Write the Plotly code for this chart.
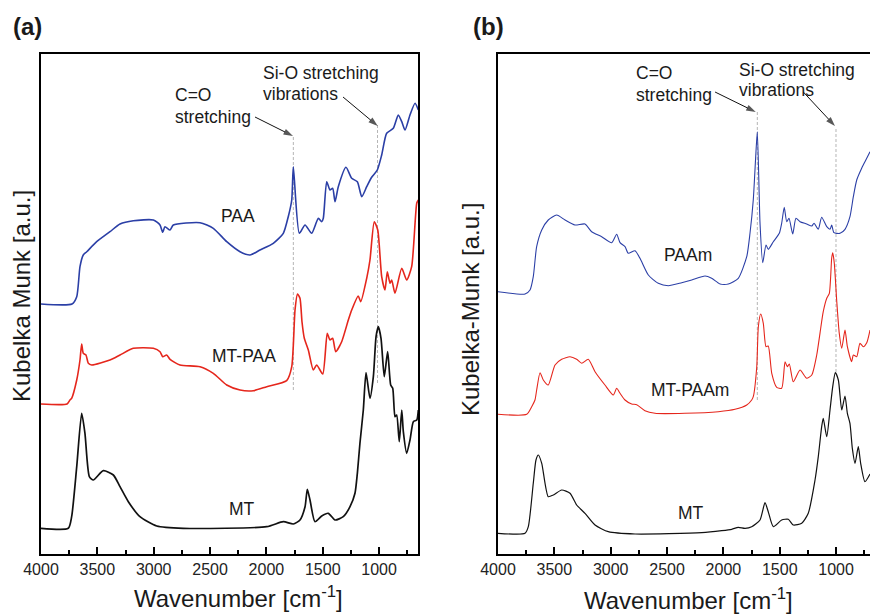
import plotly.graph_objects as go

# ---------------- data (wavenumber in cm-1, Kubelka-Munk in a.u.) ----------------
PAA_WN = [4000, 3725, 3683, 3654, 3625, 3594, 3506, 3388, 3299, 3181, 3003, 2944, 2920, 2900, 2855, 2826,
          2589, 2471, 2352, 2234, 2145, 2057, 1939, 1850, 1806, 1775, 1761, 1708, 1657, 1598, 1539, 1509,
          1495, 1465, 1436, 1412, 1391, 1362, 1294, 1243, 1193, 1154, 1110, 1066, 1016, 977, 933, 874,
          830, 799, 770, 726, 681, 652]
PAA_Y = [250, 250, 257.3, 287.3, 299, 302.3, 312.3, 322.3, 330, 333.3, 334, 329, 321.7, 327.3, 324, 329,
         331.3, 325.7, 312.3, 302.3, 299, 304, 310.7, 320.7, 337.3, 354, 387.3, 320.7, 329, 320.7, 335.7, 332.3,
         335.7, 372.3, 364, 365.7, 352.3, 367.3, 386.7, 375.7, 372.3, 357.3, 367.3, 376.7, 384, 399, 420.7, 425.7,
         439, 432.3, 424, 439, 450.7, 444]

MTPAA_WN = [4000, 3769, 3743, 3728, 3683, 3654, 3639, 3625, 3601, 3580, 3550, 3388, 3299, 3181, 3003, 2944,
            2920, 2885, 2855, 2767, 2589, 2471, 2352, 2234, 2116, 1997, 1820, 1775, 1746, 1724, 1702, 1684,
            1664, 1628, 1584, 1554, 1500, 1460, 1436, 1412, 1385, 1332, 1273, 1243, 1185, 1163, 1110, 1081,
            1043, 1012, 977, 948, 927, 903, 888, 859, 799, 755, 711, 666, 652]
MTPAA_Y = [150, 150, 154, 155.7, 174, 194, 210, 200.7, 199, 190.7, 189, 194, 199, 205.7, 205.7, 202.3,
           197.3, 199, 194.7, 189, 187.3, 180.7, 169, 164, 163.3, 167.3, 173.3, 187.3, 244, 260, 255.7, 232,
           216, 204, 184, 189, 180, 220.7, 214, 215.7, 202.3, 212.3, 234, 244, 258, 252.3, 275.7, 294,
           332.3, 324, 277.3, 264, 282.3, 270.7, 274, 260.7, 285.7, 274, 287.3, 350.7, 354]

MT_A_WN = [4000, 3758, 3728, 3683, 3639, 3610, 3571, 3536, 3447, 3358, 3299, 3225, 3122, 2973, 2737, 1997,
           1850, 1761, 1702, 1657, 1637, 1613, 1569, 1509, 1451, 1391, 1318, 1258, 1214, 1193, 1170, 1140,
           1116, 1081, 1051, 1027, 1007, 983, 954, 924, 897, 879, 859, 844, 821, 799, 785, 755, 726, 696,
           666, 652]
MT_A_Y = [25.7, 25.7, 37.3, 87.3, 140.7, 120.7, 77.3, 74, 83.3, 79, 67.3, 52.3, 37.3, 28, 25.7, 27.3,
          32.3, 30, 34, 47.3, 64.7, 54, 32.3, 38, 40.7, 34, 37.3, 47.3, 60.7, 80.7, 110.7, 144,
          181.3, 155.7, 177.3, 217.3, 227.3, 215.7, 177.3, 202.3, 169, 165.7, 137.3, 139, 112.3, 144, 122.3, 100.7, 114, 132.3,
          134, 144]

PAAM_WN = [4000, 3760, 3716, 3687, 3657, 3612, 3554, 3479, 3405, 3317, 3228, 3169, 3080, 2991, 2947, 2917,
           2873, 2844, 2784, 2740, 2666, 2578, 2489, 2370, 2281, 2163, 2104, 2030, 1956, 1868, 1793, 1764,
           1735, 1715, 1699, 1675, 1651, 1622, 1602, 1557, 1504, 1483, 1460, 1438, 1418, 1385, 1356, 1320,
           1261, 1216, 1196, 1158, 1128, 1083, 1054, 1039, 1019, 965, 921, 877, 847, 817, 773, 744, 699]
PAAM_Y = [262.3, 260, 264, 277.3, 307.3, 324, 334, 339, 334, 329, 330, 322.3, 317.3, 311.3, 319.7, 311.3,
          307.3, 300.7, 303.3, 295.7, 279, 270.7, 268.3, 271.3, 274, 278, 275.7, 270, 270, 275.7, 297.3, 320.7,
          354, 394, 422.3, 330.7, 291.3, 309, 304.7, 312.3, 320.7, 330.7, 346.7, 332.3, 335.7, 320, 335.7, 332.3,
          330, 328, 330.7, 324.7, 336.7, 327.3, 324.7, 329, 321.3, 320.7, 324.7, 337.3, 357.3, 374, 385.7, 392.3, 402.3]

MTPAAM_WN = [4000, 3745, 3701, 3672, 3657, 3627, 3598, 3554, 3494, 3435, 3361, 3302, 3257, 3199, 3139, 3051,
             2977, 2947, 2917, 2873, 2814, 2769, 2696, 2607, 2341, 2045, 1897, 1793, 1749, 1735, 1704, 1690,
             1669, 1646, 1622, 1602, 1571, 1527, 1483, 1453, 1433, 1415, 1380, 1320, 1261, 1216, 1172, 1143,
             1114, 1083, 1060, 1039, 1030, 1016, 995, 972, 950, 921, 900, 862, 847, 817, 788, 759, 728, 699]
MTPAAM_Y = [139.7, 139.7, 147.3, 154, 164, 181.3, 174, 169, 189, 194.7, 197.3, 194.7, 190.7, 194.7, 182.3, 169,
            159, 165.7, 160.7, 154, 150, 149.3, 143.3, 140.7, 140.7, 142.3, 144.7, 149, 154, 157.3, 187.3, 227.3,
            240, 230.7, 207.3, 208, 180.7, 166.7, 165.7, 192.3, 187.3, 190, 172.3, 184, 175.7, 179, 199, 220.7,
            242.3, 255.7, 260.7, 296, 301.3, 290.7, 254, 220.7, 205.7, 224, 207.3, 192.3, 199, 197.3, 210.7, 207.3, 211.3, 224]

MT_B_WN = [4000, 3760, 3731, 3687, 3663, 3642, 3612, 3554, 3509, 3435, 3361, 3302, 3228, 3139, 3021, 2784,
           2192, 2015, 1926, 1868, 1808, 1749, 1675, 1631, 1602, 1557, 1483, 1424, 1380, 1305, 1247, 1187,
           1158, 1128, 1114, 1083, 1054, 1030, 1007, 980, 950, 921, 900, 877, 856, 832, 803, 782, 744, 699]
MT_B_Y = [20.7, 20.7, 27.3, 70.7, 94, 99, 90.7, 57.3, 59, 64, 60.7, 49, 40.7, 29, 22.3, 20,
          21.3, 23.3, 24.7, 26.7, 25.7, 27.3, 34, 51.3, 42.3, 27.3, 34, 34.7, 29, 30.7, 40.7, 74,
          97.3, 127.3, 135.7, 117.3, 144, 167.3, 181.3, 174, 144, 158, 140.7, 130.7, 105.7, 90.7, 107.3, 90.7, 72.3, 80]

# marker lines (wavenumber) and their vertical extents (a.u.)
A_CO_LINE = [1761, 164, 417]
A_SIO_LINE = [1014, 171, 429]
B_CO_LINE = [1699, 154, 442]
B_SIO_LINE = [1001, 182, 426]

A_LABELS = ["PAA", "MT-PAA", "MT"]
A_LABEL_POS = [(2252, 338), (2199, 198), (2216, 45)]
B_LABELS = ["PAAm", "MT-PAAm", "MT"]
B_LABEL_POS = [(2311, 299), (2296, 164), (2290, 41)]

TICKVALS = [4000, 3500, 3000, 2500, 2000, 1500, 1000]
TICKTEXT = ["4000", "3500", "3000", "2500", "2000", "1500", "1000"]
MINOR_TICKS = [3750, 3250, 2750, 2250, 1750, 1250, 750]

# arrows: (x-axis, y-axis, head wn, head y, tail wn, tail y)
ARROWS = [("x", "y", 1764, 418, 2101, 437), ("x", "y", 1012, 428, 1320, 457),
          ("x2", "y2", 1713, 442, 2074, 462), ("x2", "y2", 1010, 428, 1291, 462)]

BLUE = "#2b3fa6"
RED = "#e5261c"
BLACK = "#111111"
FONT = "Liberation Sans, Arial, sans-serif"

W, H = 870, 614

fig = go.Figure()


def add_curve(x, y, color, width, xa, ya):
    fig.add_trace(go.Scatter(x=x, y=y, mode="lines", xaxis=xa, yaxis=ya,
                             line=dict(color=color, width=width, shape="spline", smoothing=0.6),
                             hoverinfo="skip", showlegend=False))


for ln, xa, ya in [(A_CO_LINE, "x", "y"), (A_SIO_LINE, "x", "y"),
                   (B_CO_LINE, "x2", "y2"), (B_SIO_LINE, "x2", "y2")]:
    fig.add_trace(go.Scatter(x=[ln[0], ln[0]], y=[ln[1], ln[2]], mode="lines", xaxis=xa, yaxis=ya,
                             line=dict(color="#b5b5b5", width=1, dash="3px,2px"),
                             hoverinfo="skip", showlegend=False))

add_curve(PAA_WN, PAA_Y, BLUE, 1.6, "x", "y")
add_curve(MTPAA_WN, MTPAA_Y, RED, 1.6, "x", "y")
add_curve(MT_A_WN, MT_A_Y, BLACK, 1.7, "x", "y")
add_curve(PAAM_WN, PAAM_Y, BLUE, 1.1, "x2", "y2")
add_curve(MTPAAM_WN, MTPAAM_Y, RED, 1.1, "x2", "y2")
add_curve(MT_B_WN, MT_B_Y, BLACK, 1.2, "x2", "y2")

# arrows drawn as line + arrow-head marker
for xr, yr, hx, hy, tx, ty in ARROWS:
    fig.add_trace(go.Scatter(x=[tx, hx], y=[ty, hy], mode="lines+markers", xaxis=xr, yaxis=yr,
                             line=dict(color="#111", width=1),
                             marker=dict(symbol=["circle", "arrow"], size=[0, 10], color="#111",
                                         angleref="previous", line=dict(width=0)),
                             hoverinfo="skip", showlegend=False))

ydom = [(H - 554) / H, (H - 54) / H]

xcommon = dict(tickvals=TICKVALS, ticktext=TICKTEXT, ticks="inside", ticklen=7, tickwidth=2,
               tickcolor="black", showline=True, linecolor="black", linewidth=2, showgrid=False,
               zeroline=False, automargin=False, tickfont=dict(family=FONT, size=16, color="#222"),
               minor=dict(ticks="inside", ticklen=4, tickwidth=2, tickcolor="black",
                          tickvals=MINOR_TICKS))
ycommon = dict(range=[0, 500], showline=True, linecolor="black", linewidth=2, showgrid=False,
               zeroline=False, showticklabels=False, ticks="", domain=ydom, automargin=False)

fig.update_layout(
    width=W, height=H, margin=dict(l=0, r=0, t=0, b=0, pad=0, autoexpand=False),
    paper_bgcolor="white", plot_bgcolor="white",
    xaxis=dict(domain=[41 / W, 418 / W], range=[4000, 654.8], mirror=True, anchor="y", **xcommon),
    yaxis=dict(anchor="x", mirror=True, **ycommon),
    xaxis2=dict(domain=[498 / W, 1.0], range=[4000, 699.2], mirror=True, anchor="y2", **xcommon),
    yaxis2=dict(anchor="x2", mirror=False, **ycommon),
)

ann = []


def txt(text, x, y, xref, yref, size, xanchor="center", bold=False, angle=0):
    ann.append(dict(text=("<b>%s</b>" % text) if bold else text, x=x, y=y, xref=xref, yref=yref,
                    showarrow=False, xanchor=xanchor, yanchor="middle", textangle=angle,
                    font=dict(family=FONT, size=size, color="#1a1a1a")))


def px(xp):
    return xp / W


def py(yp):
    return 1 - yp / H


txt("(a)", px(27.5), py(26), "paper", "paper", 24, bold=True)
txt("(b)", px(488.5), py(26), "paper", "paper", 24, bold=True)

txt("Wavenumber [cm<sup>-1</sup>]", px(239), py(597), "paper", "paper", 24)
txt("Wavenumber [cm<sup>-1</sup>]", px(688), py(599), "paper", "paper", 24)
txt("Kubelka Munk [a.u.]", px(21), py(296), "paper", "paper", 24, angle=-90)
txt("Kubelka-Munk [a.u.]", px(470), py(310), "paper", "paper", 24, angle=-90)

for t, (xx, yy) in zip(A_LABELS, A_LABEL_POS):
    txt(t, xx, yy, "x", "y", 17.5)
for t, (xx, yy) in zip(B_LABELS, B_LABEL_POS):
    txt(t, xx, yy, "x2", "y2", 17.5)

txt("C=O", 2829, 459, "x", "y", 17.5, xanchor="left")
txt("stretching", 2829, 437, "x", "y", 17.5, xanchor="left")
txt("Si-O stretching", 2048, 481, "x", "y", 17.5, xanchor="left")
txt("vibrations", 2048, 460, "x", "y", 17.5, xanchor="left")
txt("C=O", 2793, 481, "x2", "y2", 17.5, xanchor="left")
txt("stretching", 2793, 459, "x2", "y2", 17.5, xanchor="left")
txt("Si-O stretching", 1877, 484, "x2", "y2", 17.5, xanchor="left")
txt("vibrations", 1877, 464, "x2", "y2", 17.5, xanchor="left")

fig.update_layout(annotations=ann)
fig.write_html("out.html")
